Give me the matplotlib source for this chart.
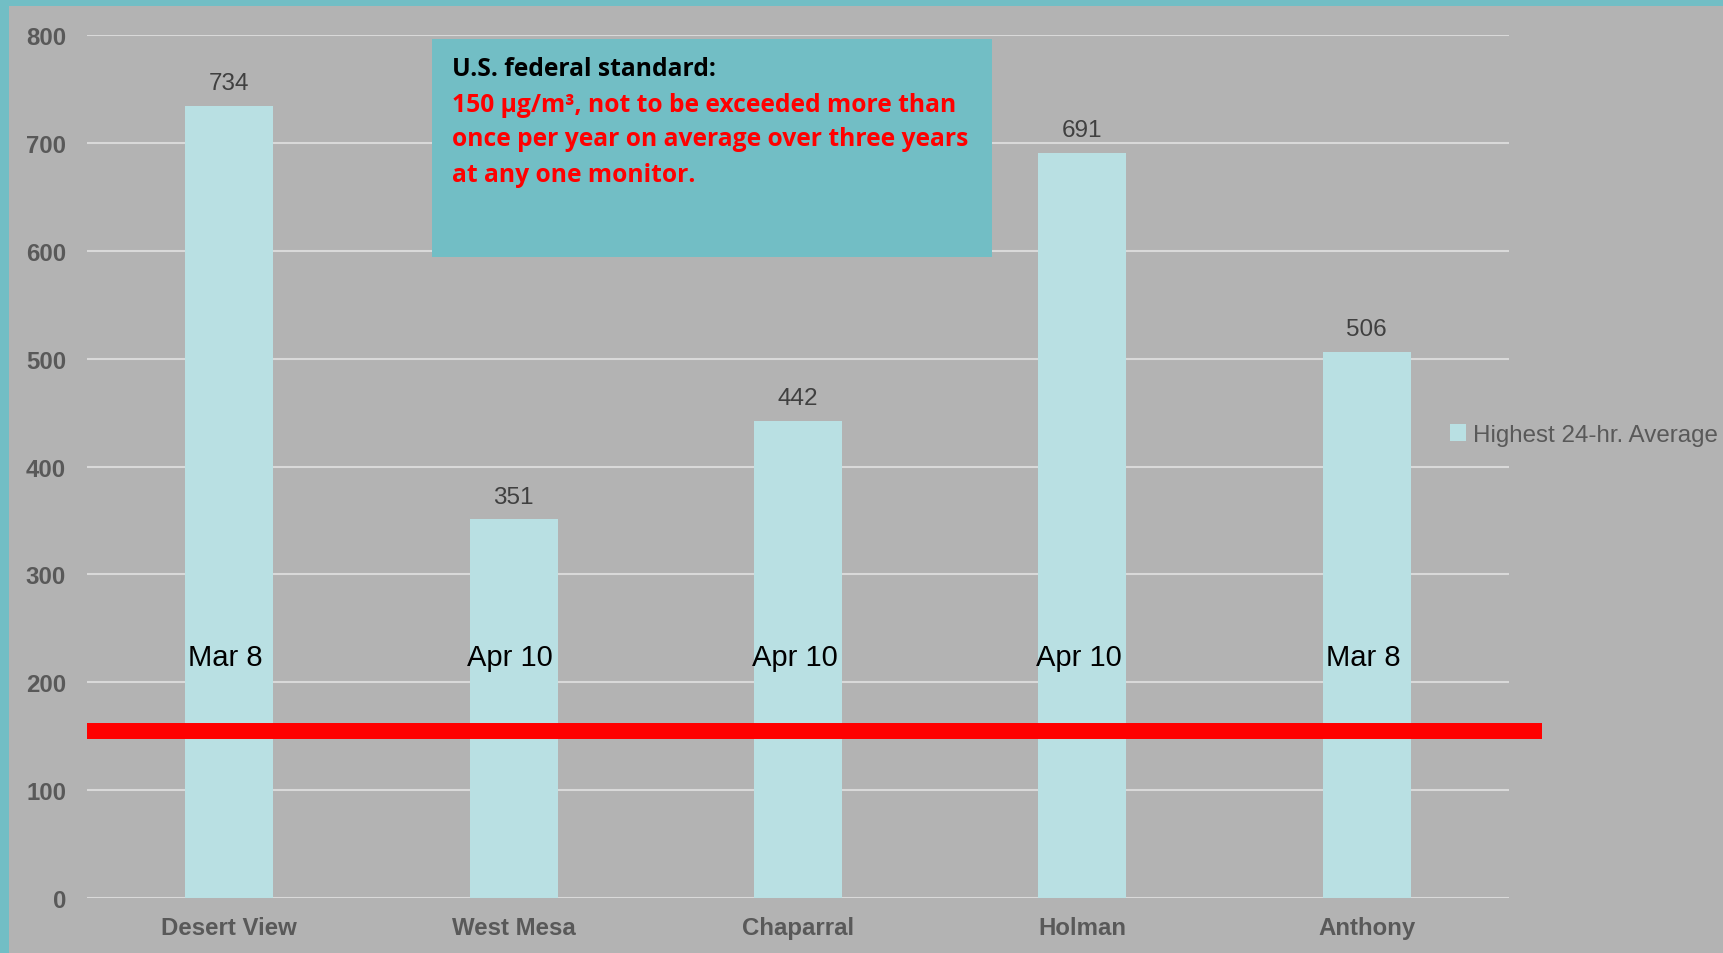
import matplotlib
matplotlib.use("Agg")
import matplotlib.pyplot as plt
import matplotlib.patches as mpatches
import numpy as np

SITES = ["Desert View", "West Mesa", "Chaparral", "Holman", "Anthony"]
HIGHEST_24HR = [734, 351, 442, 691, 506]
DATES = ["Mar 8", "Apr 10", "Apr 10", "Apr 10", "Mar 8"]
STANDARD_LINE = 155          # drawn just above the 150 standard in the original
DATE_LABEL_Y = 223

BOX_TITLE = "U.S. federal standard:"
BOX_LINES = ["150 µg/m³, not to be exceeded more than",
             "once per year on average over three years",
             "at any one monitor."]

BG = "#B3B3B3"
TEAL = "#72BEC5"
BAR = "#B9E0E3"
GRID = "#D9D9D9"
TXT = "#595959"

W, H = 1723, 954
fig = plt.figure(figsize=(W / 100, H / 100), dpi=100, facecolor=BG)

# teal frame on top and left
fig.patches.append(mpatches.Rectangle((0, 1 - 7 / H), 1, 7 / H, transform=fig.transFigure,
                                      facecolor=TEAL, edgecolor="none", zorder=0))
fig.patches.append(mpatches.Rectangle((0, 0), 9 / W, 1, transform=fig.transFigure,
                                      facecolor=TEAL, edgecolor="none", zorder=0))

L, R, T, B = 87, 1509, 36, 899
ax = fig.add_axes([L / W, 1 - B / H, (R - L) / W, (B - T) / H], facecolor=BG)

x = np.arange(len(SITES))
bars = ax.bar(x, HIGHEST_24HR, width=0.31, color=BAR, zorder=2,
              label="Highest 24-hr. Average")
ax.set_xlim(-0.5, len(SITES) - 0.5)
ax.set_ylim(0, 800)
ax.set_yticks(np.arange(0, 801, 100))
ax.yaxis.grid(True, color=GRID, lw=1.5, zorder=1)
ax.set_axisbelow(True)
for s in ax.spines.values():
    s.set_visible(False)
ax.tick_params(length=0, labelsize=17.3, labelcolor=TXT)
ax.tick_params(axis="y", pad=15)
ax.tick_params(axis="x", pad=13)
ax.set_xticks(x)
ax.set_xticklabels(SITES, fontweight="bold", family="Liberation Sans")
for lab in ax.get_yticklabels():
    lab.set_fontweight("bold")
    lab.set_family("Liberation Sans")

for xi, v in zip(x, HIGHEST_24HR):
    ax.annotate(f"{v}", xy=(xi, v), xytext=(0, 8.5), textcoords="offset points",
                ha="center", va="bottom", fontsize=17.5, color="#404040",
                family="Liberation Sans")

for xi, d in zip(x, DATES):
    ax.text(xi - 0.012, DATE_LABEL_Y, d, ha="center", va="center", fontsize=21,
            color="black", family="Liberation Sans", zorder=4)

ax.axhline(STANDARD_LINE, xmin=0, xmax=(1542 - L) / (R - L), color="#FF0000",
           lw=11.5, solid_capstyle="butt", clip_on=False, zorder=3)

# text box with the standard
bx0, by0, bx1, by1 = 432, 40, 992, 258
fig.patches.append(mpatches.Rectangle((bx0 / W, 1 - by1 / H), (bx1 - bx0) / W, (by1 - by0) / H,
                                      transform=fig.transFigure, facecolor=TEAL,
                                      edgecolor="none", zorder=5))
fig.text(452 / W, 1 - 70 / H, BOX_TITLE, ha="left", va="center",
         fontsize=17.7, fontweight="bold", color="black", family="Open Sans", zorder=6)
for i, line in enumerate(BOX_LINES):
    fig.text(452 / W, 1 - (105 + 35 * i) / H, line, ha="left", va="center",
             fontsize=17.7, fontweight="bold", color="#FF0000",
             family="Open Sans", zorder=6)

leg = fig.legend(handles=[bars], labels=["Highest 24-hr. Average"],
                 loc="center left", bbox_to_anchor=(1450 / W, 1 - 436 / H),
                 frameon=False, fontsize=17.4, handlelength=0.65, handleheight=0.65,
                 handletextpad=0.3, borderpad=0, borderaxespad=0)
for t in leg.get_texts():
    t.set_color(TXT)
    t.set_family("Liberation Sans")

fig.savefig("out.png", dpi=100, facecolor=BG)
